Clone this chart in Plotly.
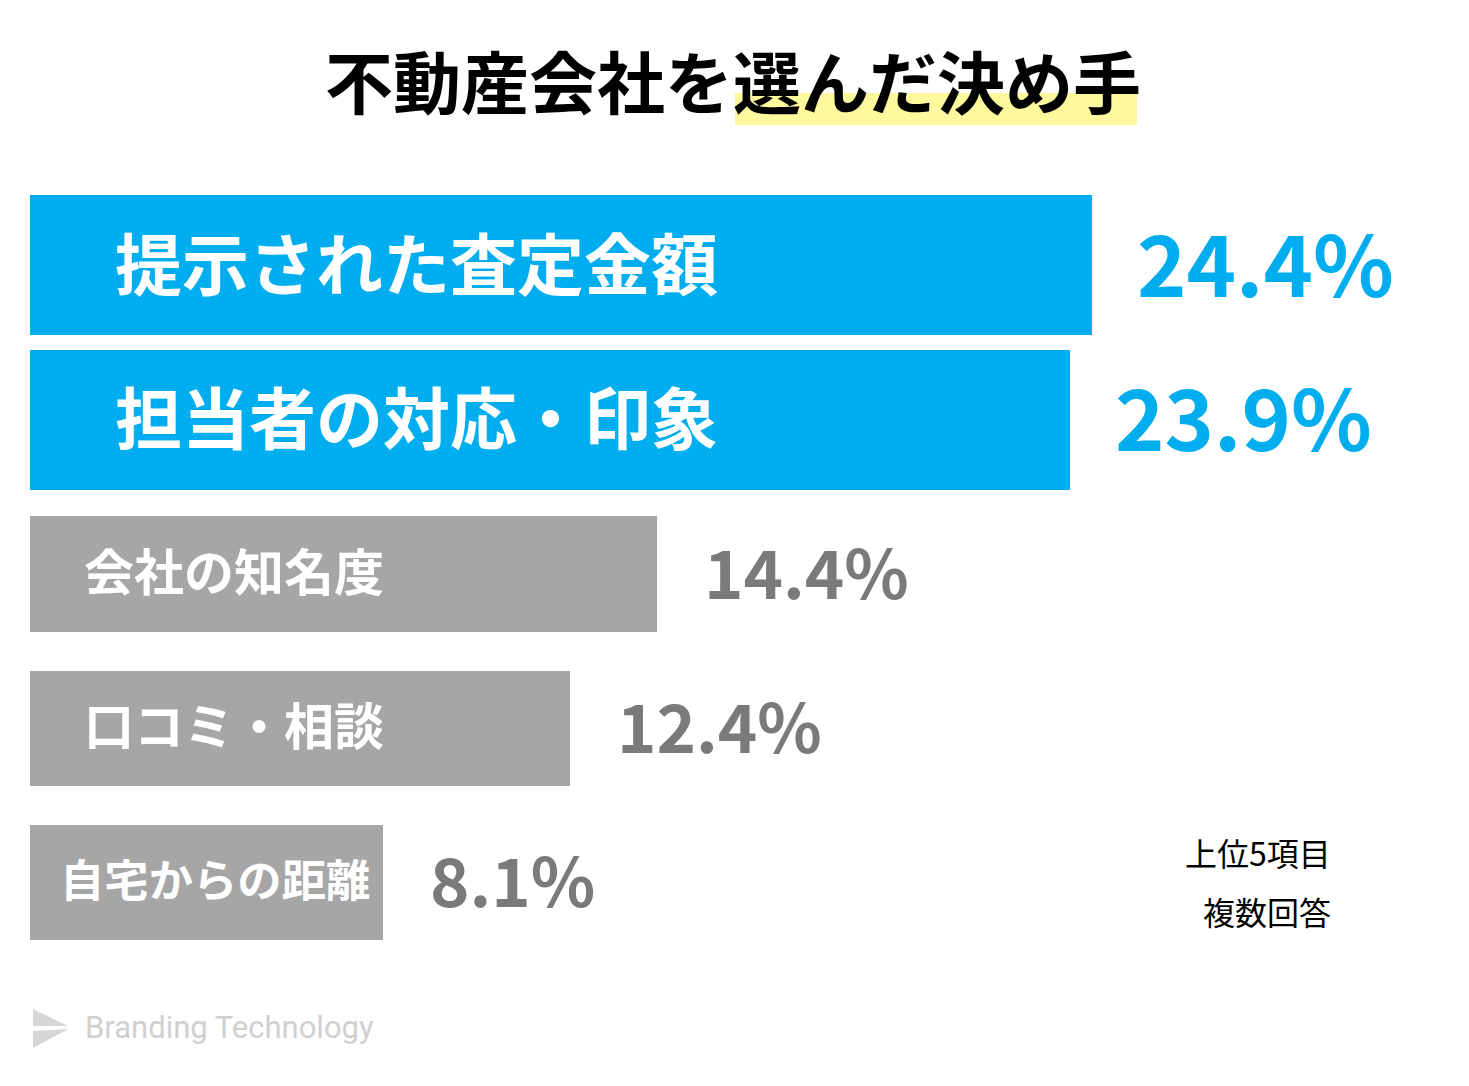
import plotly.graph_objects as go

# ---- data ----
categories = ["提示された査定金額", "担当者の対応・印象", "会社の知名度", "口コミ・相談", "自宅からの距離"]
values = [24.4, 23.9, 14.4, 12.4, 8.1]
value_labels = ["24.4%", "23.9%", "14.4%", "12.4%", "8.1%"]
highlight = [True, True, False, False, False]
title_plain = "不動産会社を"
title_marked = "選んだ決め手"
notes = ["上位5項目", "複数回答"]
brand = "Branding Technology"

# ---- styles ----
W, H = 1469, 1086
ML, MR, MT, MB = 30, 0, 188, 126
PW, PH = W - ML - MR, H - MT - MB
PX_PER_UNIT = 43.52
BLUE = "#00AEEF"
GREY = "#A6A6A6"
GREY_TXT = "#7A7A7A"
JP = "Noto Sans CJK JP"


def px(x, y):
    """page pixel -> paper coords"""
    return (x - ML) / PW, (H - MB - y) / PH


colors = [BLUE if h else GREY for h in highlight]
widths = [0.907 if h else 0.745 for h in highlight]

fig = go.Figure(
    go.Bar(
        x=values,
        y=categories,
        orientation="h",
        marker=dict(color=colors, line=dict(width=0)),
        width=widths,
        hoverinfo="skip",
    )
)

annotations = []
for cat, v, lab, h in zip(categories, values, value_labels, highlight):
    base_size = 67 if h else 50
    shift = 83 if h else 52
    bar_len = v * PX_PER_UNIT
    size = base_size
    if shift + len(cat) * size + 12 > bar_len:
        shift = 28
        size = min(base_size, (bar_len - shift - 14) / len(cat))
    annotations.append(dict(
        x=0, y=cat, xref="x", yref="y", text=cat, showarrow=False,
        xanchor="left", yanchor="middle", xshift=shift, yshift=5,
        font=dict(family=JP, size=size, color="white", weight=700),
    ))
    annotations.append(dict(
        x=v, y=cat, xref="x", yref="y", text=lab, showarrow=False,
        xanchor="left", yanchor="middle", xshift=43 if h else 45, yshift=5,
        font=dict(family=JP, size=84 if h else 67,
                  color=BLUE if h else GREY_TXT, weight=700),
    ))

# title
tx, ty = px(733, 80)
annotations.append(dict(
    x=tx, y=ty, xref="paper", yref="paper", showarrow=False,
    xanchor="center", yanchor="middle",
    text=title_plain + title_marked,
    font=dict(family=JP, size=68, color="black", weight=700),
))

# notes
for i, n in enumerate(notes):
    nx, ny = px(1333, 852 + i * 59)
    annotations.append(dict(
        x=nx, y=ny, xref="paper", yref="paper", showarrow=False,
        xanchor="right", yanchor="middle", text=n,
        font=dict(family=JP, size=32, color="black"),
    ))

# brand
bx, by = px(83, 1027)
annotations.append(dict(
    x=bx, y=by, xref="paper", yref="paper", showarrow=False,
    xanchor="left", yanchor="middle", text=brand,
    font=dict(family="Roboto", size=31, color="#D0D0D0"),
))

shapes = []
# title highlight
x0, y0 = px(735, 125)
x1, y1 = px(1137, 93)
shapes.append(dict(type="rect", xref="paper", yref="paper", x0=x0, y0=y0, x1=x1, y1=y1,
                   fillcolor="#FFF99E", line=dict(width=0), layer="below"))


def path(points):
    s = ""
    for i, (a, b) in enumerate(points):
        pxx, pyy = px(a, b)
        s += ("M" if i == 0 else "L") + f"{pxx:.5f},{pyy:.5f} "
    return s + "Z"


shapes.append(dict(type="path", xref="paper", yref="paper",
                   path=path([(33, 1009), (68, 1026), (33, 1026)]),
                   fillcolor="#D6D6D6", line=dict(width=0)))
shapes.append(dict(type="path", xref="paper", yref="paper",
                   path=path([(33, 1031), (68, 1029), (33, 1048)]),
                   fillcolor="#D6D6D6", line=dict(width=0)))

fig.update_layout(
    width=W, height=H,
    margin=dict(l=ML, r=MR, t=MT, b=MB, pad=0),
    paper_bgcolor="white", plot_bgcolor="white",
    showlegend=False,
    xaxis=dict(range=[0, PW / PX_PER_UNIT], visible=False, fixedrange=True),
    yaxis=dict(range=[4.5, -0.5], visible=False, fixedrange=True,
               type="category", categoryorder="array", categoryarray=categories),
    annotations=annotations,
    shapes=shapes,
    bargap=0,
)

fig.write_html(
    "out.html",
    config={"displayModeBar": False},
    post_script="document.body.style.margin='0';document.body.style.overflow='hidden';",
)
